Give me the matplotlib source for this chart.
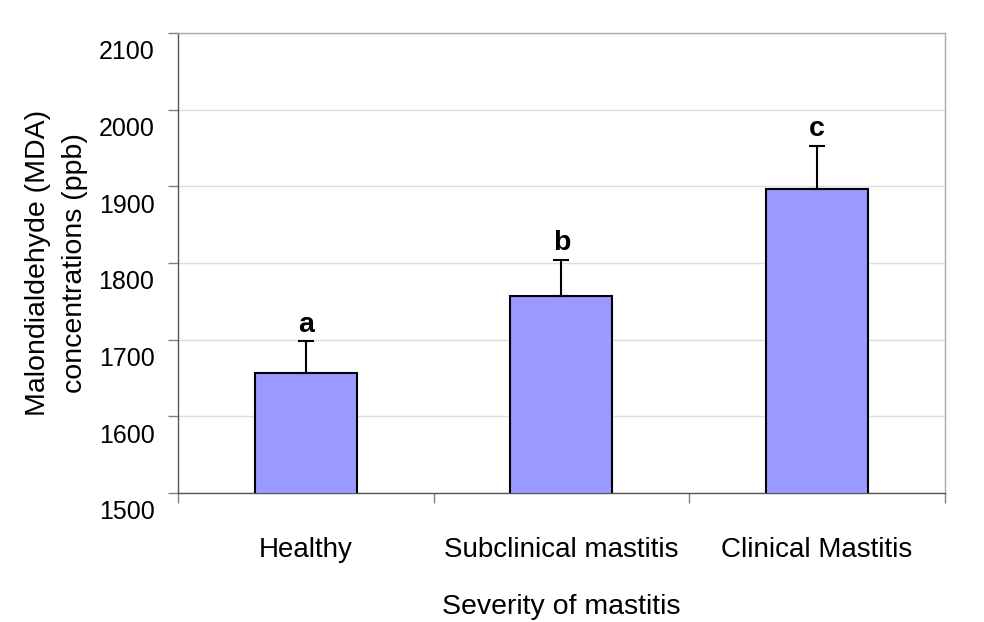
import matplotlib
matplotlib.use("Agg")
import matplotlib.pyplot as plt
import matplotlib.transforms as mtransforms
import numpy as np

categories = ["Healthy", "Subclinical mastitis", "Clinical Mastitis"]
means = [1656, 1757, 1897]
errors = [42, 47, 56]
letters = ["a", "b", "c"]
yticks = [1500, 1600, 1700, 1800, 1900, 2000, 2100]

plt.rcParams['font.family'] = ['Liberation Sans', 'DejaVu Sans']

fig = plt.figure(figsize=(9.84, 6.22), dpi=100)
ax = fig.add_axes([0.181, 0.2074, 0.779, 0.7396])

x = np.arange(len(categories))
ax.bar(x, means, width=0.4, bottom=0, color="#9999ff", edgecolor="black", linewidth=1.5, zorder=3)
ax.errorbar(x, means, yerr=[np.zeros(len(errors)), errors], fmt="none", ecolor="black",
            elinewidth=1.5, capsize=6, capthick=1.5, zorder=4)
for xi, m, e, l in zip(x, means, errors, letters):
    ax.annotate(l, (xi, m + e), xytext=(0, 2.5), textcoords="offset points",
                ha="center", va="bottom", fontsize=20.5, fontweight="bold")

ax.set_ylim(1500, 2100)
ax.set_xlim(-0.5, 2.5)
ax.set_yticks(yticks)
ax.set_yticklabels([str(v) for v in yticks], fontsize=18)
ax.yaxis.grid(True, color="#dddddd", linewidth=1, zorder=0)
ax.tick_params(axis="y", length=7, width=1, color="#808080", pad=10)
# shift y tick labels downward as in reference
offset = mtransforms.ScaledTranslation(0, -17 / 100, fig.dpi_scale_trans)
for lab in ax.get_yticklabels():
    lab.set_transform(lab.get_transform() + offset)

ax.set_xticks([-0.5, 0.5, 1.5, 2.5])
ax.set_xticklabels([])
ax.set_xticks(x, minor=True)
ax.set_xticklabels(categories, minor=True, fontsize=20)
ax.tick_params(axis="x", which="major", length=7, width=1, color="#808080")
ax.tick_params(axis="x", which="minor", length=0, pad=32)

for s in ["left", "bottom"]:
    ax.spines[s].set_color("#555555")
    ax.spines[s].set_linewidth(1)
for s in ["top", "right"]:
    ax.spines[s].set_color("#aaaaaa")
    ax.spines[s].set_linewidth(1)

ax.set_ylabel("Malondialdehyde (MDA)\nconcentrations (ppb)", fontsize=20.5, labelpad=8, linespacing=1.55)
ax.set_xlabel("Severity of mastitis", fontsize=20.5, labelpad=22)

fig.savefig("out.png", dpi=100)
